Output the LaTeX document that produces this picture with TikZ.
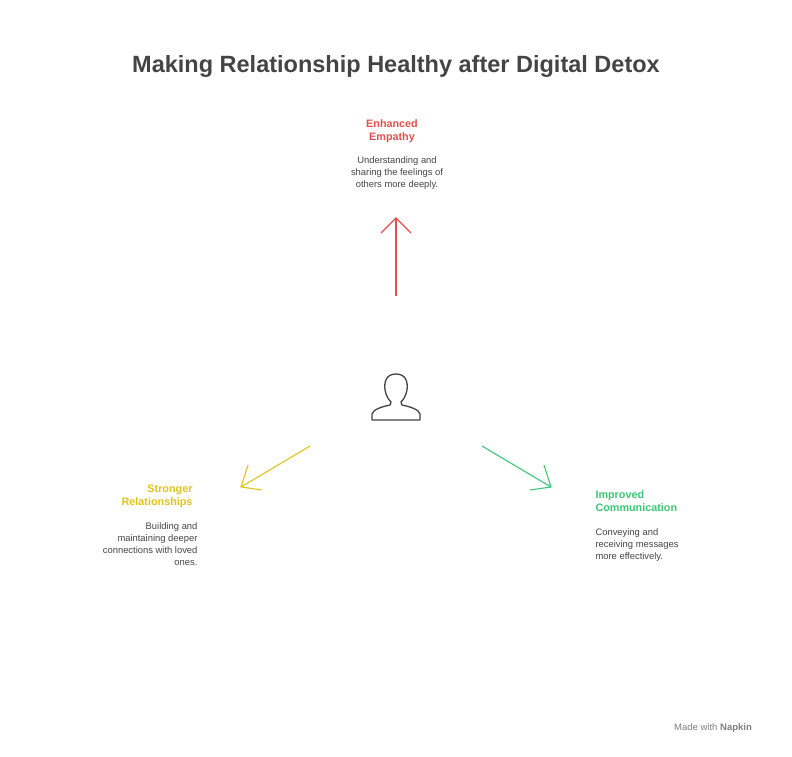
\documentclass[tikz,border=0pt]{standalone}
\usepackage{fontspec}
\setmainfont{Liberation Sans}
\usetikzlibrary{positioning}
\hyphenpenalty=10000
\definecolor{titlegray}{RGB}{68,68,68}
\definecolor{empred}{RGB}{224,80,80}
\definecolor{relyel}{RGB}{224,196,30}
\definecolor{comgreen}{RGB}{60,200,120}
\definecolor{textgray}{RGB}{70,70,70}
\tikzset{
  heading/.style={font=\bfseries\fontsize{10.8}{13.5}\selectfont},
  desc/.style={font=\fontsize{9.4}{12}\selectfont, text=textgray},
  openarrow/.style={line width=1.1pt},
}
\begin{document}
\begin{tikzpicture}[x=1pt,y=-1pt]
  \useasboundingbox (0,0) rectangle (792,756);
  \fill[white] (0,0) rectangle (792,756);

  \node (title) [font=\bfseries\fontsize{23.5}{28}\selectfont, text=titlegray] at (396,66) {Making Relationship Healthy after Digital Detox};

  % top: empathy
  \node (emph) [heading, align=center, text=empred] at (392,131) {Enhanced\\Empathy};
  \node (emphd) [desc, align=center, anchor=north] at (397,153) {Understanding and\\sharing the feelings of\\others more deeply.};
  \coordinate (etail) at (396,296);
  \coordinate (ehead) at (396,218);
  \draw [openarrow, empred] (etail) -- (ehead);
  \draw [openarrow, empred] (381,233) -- (ehead) -- (411,233);

  % person icon
  \node (person) at (396,398) {};
  \draw [line width=1.3pt, titlegray, line join=round]
    (396,374) .. controls (386,374) and (384,382) .. (385,390)
    .. controls (386,396) and (389,400) .. (391,402)
    -- (390,405) .. controls (380,407) and (373,410) .. (372,414)
    -- (372,420) -- (420,420) -- (420,414)
    .. controls (419,410) and (412,407) .. (402,405)
    -- (401,402) .. controls (403,400) and (406,396) .. (407,390)
    .. controls (408,382) and (406,374) .. (396,374) -- cycle;

  % left: relationships
  \coordinate (rtail) at (310,446);
  \coordinate (rhead) at (241,487);
  \draw [openarrow, relyel] (rtail) -- (rhead);
  \draw [openarrow, relyel] (248,465) -- (rhead) -- (262,490);
  \node (rel) [heading, align=right, text=relyel, anchor=north east] at (196,481) {Stronger\\Relationships};
  \node (reld) [desc, align=right, anchor=north east] at (201,519) {Building and\\maintaining deeper\\connections with loved\\ones.};

  % right: communication
  \coordinate (ctail) at (482,446);
  \coordinate (chead) at (551,487);
  \draw [openarrow, comgreen] (ctail) -- (chead);
  \draw [openarrow, comgreen] (530,490) -- (chead) -- (544,465);
  \node (com) [heading, align=left, text=comgreen, anchor=north west] at (592,487) {Improved\\Communication};
  \node (comd) [desc, align=left, anchor=north west] at (592,525) {Conveying and\\receiving messages\\more effectively.};

  \node (brand) [font=\fontsize{9.5}{11}\selectfont, text=gray] at (713,728) {Made with \textbf{Napkin}};
\end{tikzpicture}
\end{document}
